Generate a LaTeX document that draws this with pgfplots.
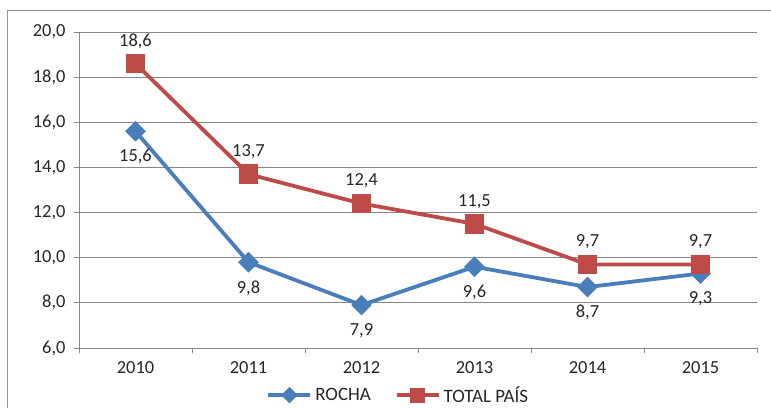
\documentclass[border=0pt]{standalone}
\usepackage{pgfplots}
\pgfplotsset{compat=1.18}
\usepackage{fontspec}
\setmainfont{Carlito}
\definecolor{rocha}{HTML}{4A7EBB}
\definecolor{pais}{HTML}{BE4B48}
\definecolor{gridc}{HTML}{878787}
\definecolor{txt}{HTML}{262626}

\begin{document}
\begin{tikzpicture}
\useasboundingbox (-79bp,-60bp) rectangle (692bp,348bp);
\draw[gridc!90, line width=0.9bp] (-71.5bp,-60bp) -- (-71.5bp,338bp) -- (692bp,338bp);
\begin{axis}[
scale only axis,
width=678bp,
height=316bp,
xmin=-0.5, xmax=5.5,
ymin=6, ymax=20,
ytick={6,8,...,20},
xtick={0,...,5},
xticklabels={2010,2011,2012,2013,2014,2015},
minor xtick={-0.5,0.5,...,5.5},
major x tick style={draw=none},
every tick/.style={gridc, line width=0.9bp},
minor tick length=5bp,
major tick length=5bp,
tick align=outside,
axis x line*=bottom,
axis y line*=left,
axis line style={gridc, line width=0.9bp, -},
ymajorgrids,
grid style={gridc, line width=0.9bp},
font=\fontsize{18.5}{21}\selectfont,
tick label style={txt},
/pgf/number format/fixed,
/pgf/number format/fixed zerofill,
/pgf/number format/precision=1,
/pgf/number format/use comma,
/pgf/number format/assume math mode=true,
xticklabel style={yshift=-5bp},
yticklabel style={xshift=-5bp},
clip=false,
legend columns=2,
legend style={draw=none, fill=none, at={(rel axis cs:0.471,-0.149)}, anchor=center,
  font=\fontsize{19}{21}\selectfont, text=txt,
  /tikz/every odd column/.append style={column sep=1bp},
  /tikz/every even column/.append style={column sep=22bp}},
legend image code/.code={\draw[mark repeat=2,mark phase=2,#1,/tikz/every mark/.append style={scale=0.72}] plot coordinates {(0bp,0bp) (21bp,0bp) (42bp,0bp)};},
nodes near coords={\pgfmathprintnumber{\pgfplotspointmeta}},
every node near coord/.append style={txt, font=\fontsize{18.5}{21}\selectfont},
]
\addplot[rocha, line width=3.8bp, mark=square*, mark size=5.4bp, mark options={solid, rotate=45},
  every node near coord/.append style={anchor=north, yshift=-13bp}]
coordinates {(0,15.6) (1,9.8) (2,7.9) (3,9.6) (4,8.7) (5,9.3)};
\addplot[pais, line width=3.8bp, mark=square*, mark size=7.8bp, mark options={solid},
  every node near coord/.append style={anchor=south, yshift=10bp}]
coordinates {(0,18.6) (1,13.7) (2,12.4) (3,11.5) (4,9.7) (5,9.7)};
\legend{ROCHA, TOTAL PAÍS}
\end{axis}
\end{tikzpicture}
\end{document}
